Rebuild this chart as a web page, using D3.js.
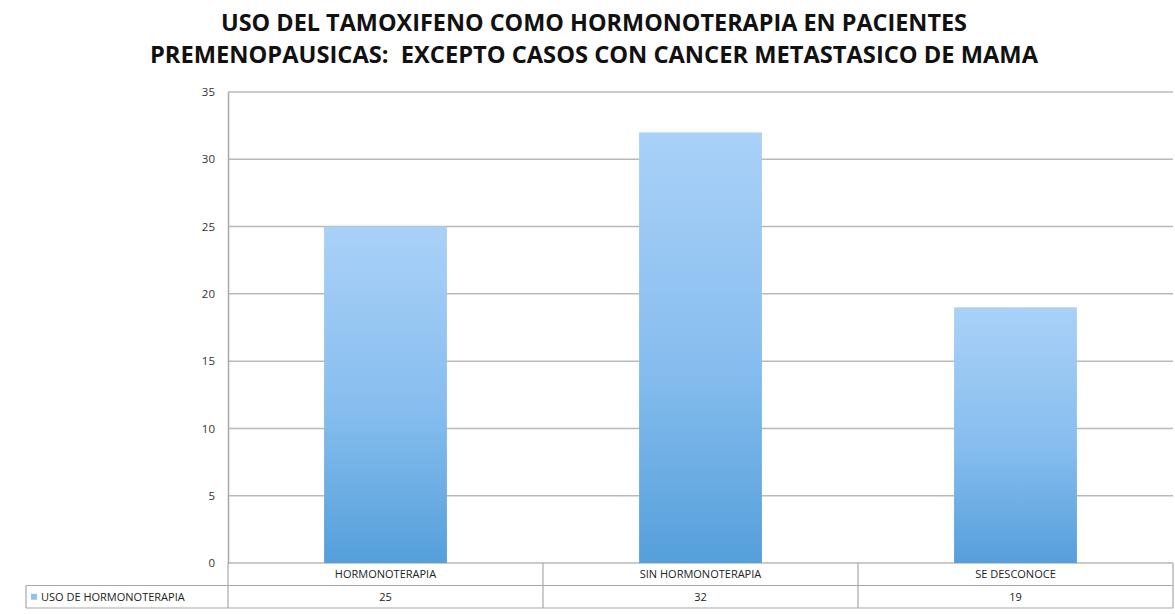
<!DOCTYPE html>
<html>
<head>
<meta charset="utf-8">
<script src="https://cdn.jsdelivr.net/npm/d3@7"></script>
<style>
  body { margin: 0; background: #fff; }
  svg { display: block; font-family: "Open Sans", "Liberation Sans", sans-serif; }
</style>
</head>
<body>
<svg id="chart" width="1175" height="614"></svg>
<script>
// Data
const titleLines = [
    "USO DEL TAMOXIFENO COMO HORMONOTERAPIA EN PACIENTES",
    "PREMENOPAUSICAS:  EXCEPTO CASOS CON CANCER METASTASICO DE MAMA"
]
const categories = ["HORMONOTERAPIA", "SIN HORMONOTERAPIA", "SE DESCONOCE"]
const values = [25, 32, 19]
const seriesName = "USO DE HORMONOTERAPIA"
const yTicks = [0, 5, 10, 15, 20, 25, 30, 35]

const svg = d3.select("#chart")

// Plot area
const margin = { left: 228, right: 2, top: 92, bottom: 51 }
const width = 1175
const height = 614

const x = d3.scaleBand()
    .domain(categories)
    .range([margin.left, width - margin.right])
    .paddingInner(0.61)
    .paddingOuter(0.305)

const xCol = d3.scaleBand()
    .domain(categories)
    .range([margin.left, width - margin.right])

const y = d3.scaleLinear()
    .domain([0, 35])
    .range([height - margin.bottom, margin.top])

// Gradient for the bars
const defs = svg.append("defs")
const grad = defs.append("linearGradient")
    .attr("id", "barGrad")
    .attr("x1", 0).attr("y1", 0).attr("x2", 0).attr("y2", 1)
grad.append("stop").attr("offset", "0%").attr("stop-color", "#aad1f8")
grad.append("stop").attr("offset", "55%").attr("stop-color", "#86bdee")
grad.append("stop").attr("offset", "100%").attr("stop-color", "#559fdb")

// Title
svg.append("g")
    .selectAll("text")
    .data(titleLines)
    .enter()
    .append("text")
    .attr("x", 594)
    .attr("y", (d, i) => 31 + i * 32)
    .attr("text-anchor", "middle")
    .attr("font-weight", "bold")
    .attr("font-size", 24)
    .attr("fill", "#111")
    .attr("textLength", (d, i) => i == 0 ? 746 : 888)
    .attr("lengthAdjust", "spacingAndGlyphs")
    .style("white-space", "pre")
    .text(d => d)

// Gridlines
svg.append("g")
    .selectAll("line")
    .data(yTicks)
    .enter()
    .append("line")
    .attr("x1", margin.left)
    .attr("x2", width - margin.right)
    .attr("y1", d => y(d))
    .attr("y2", d => y(d))
    .attr("stroke", "#b9b9b9")
    .attr("stroke-width", 1.5)

// Y axis
const yAxis = svg.append("g")
    .attr("transform", `translate(${margin.left},0)`)
    .call(d3.axisLeft(y).tickValues(yTicks).tickSize(0).tickPadding(13))
yAxis.select(".domain").attr("stroke", "#a8a8a8").attr("stroke-width", 1.5)
yAxis.selectAll("text")
    .attr("font-size", 11.5)
    .attr("fill", "#333")
    .attr("font-family", "Open Sans, sans-serif")

// Bars
svg.append("g")
    .selectAll("rect")
    .data(values)
    .enter()
    .append("rect")
    .attr("x", (d, i) => x(categories[i]))
    .attr("width", x.bandwidth())
    .attr("y", d => y(d))
    .attr("height", d => y(0) - y(d))
    .attr("fill", "url(#barGrad)")

// Data table below the chart
const row1 = y(0)
const rowH = 22.5
const table = svg.append("g")
const tableLine = { stroke: "#a8a8a8", width: 1.2 }

// horizontal lines
table.selectAll("line.h")
    .data([row1 + rowH, row1 + 2 * rowH])
    .enter()
    .append("line")
    .attr("class", "h")
    .attr("x1", 26)
    .attr("x2", width - margin.right)
    .attr("y1", d => d)
    .attr("y2", d => d)
    .attr("stroke", tableLine.stroke)
    .attr("stroke-width", tableLine.width)

// vertical lines
const vx = [margin.left].concat(categories.map(c => xCol(c) + xCol.bandwidth()))
table.selectAll("line.v")
    .data(vx)
    .enter()
    .append("line")
    .attr("class", "v")
    .attr("x1", d => d)
    .attr("x2", d => d)
    .attr("y1", row1)
    .attr("y2", row1 + 2 * rowH)
    .attr("stroke", tableLine.stroke)
    .attr("stroke-width", tableLine.width)
table.append("line")
    .attr("x1", 26).attr("x2", 26)
    .attr("y1", row1 + rowH).attr("y2", row1 + 2 * rowH)
    .attr("stroke", tableLine.stroke)
    .attr("stroke-width", tableLine.width)

// category labels
table.selectAll("text.cat")
    .data(categories)
    .enter()
    .append("text")
    .attr("class", "cat")
    .attr("x", d => xCol(d) + xCol.bandwidth() / 2)
    .attr("y", row1 + rowH / 2 + 4)
    .attr("text-anchor", "middle")
    .attr("font-size", 11)
    .attr("fill", "#222")
    .text(d => d)

// values
table.selectAll("text.val")
    .data(values)
    .enter()
    .append("text")
    .attr("class", "val")
    .attr("x", (d, i) => xCol(categories[i]) + xCol.bandwidth() / 2)
    .attr("y", row1 + rowH * 1.5 + 4)
    .attr("text-anchor", "middle")
    .attr("font-size", 11)
    .attr("fill", "#222")
    .text(d => d)

// legend key + series name
table.append("rect")
    .attr("x", 31)
    .attr("y", row1 + rowH * 1.5 - 3)
    .attr("width", 6)
    .attr("height", 6)
    .attr("fill", "#8ec2ef")
table.append("text")
    .attr("x", 41)
    .attr("y", row1 + rowH * 1.5 + 4)
    .attr("font-size", 11)
    .attr("fill", "#222")
    .text(seriesName)
</script>
</body>
</html>
